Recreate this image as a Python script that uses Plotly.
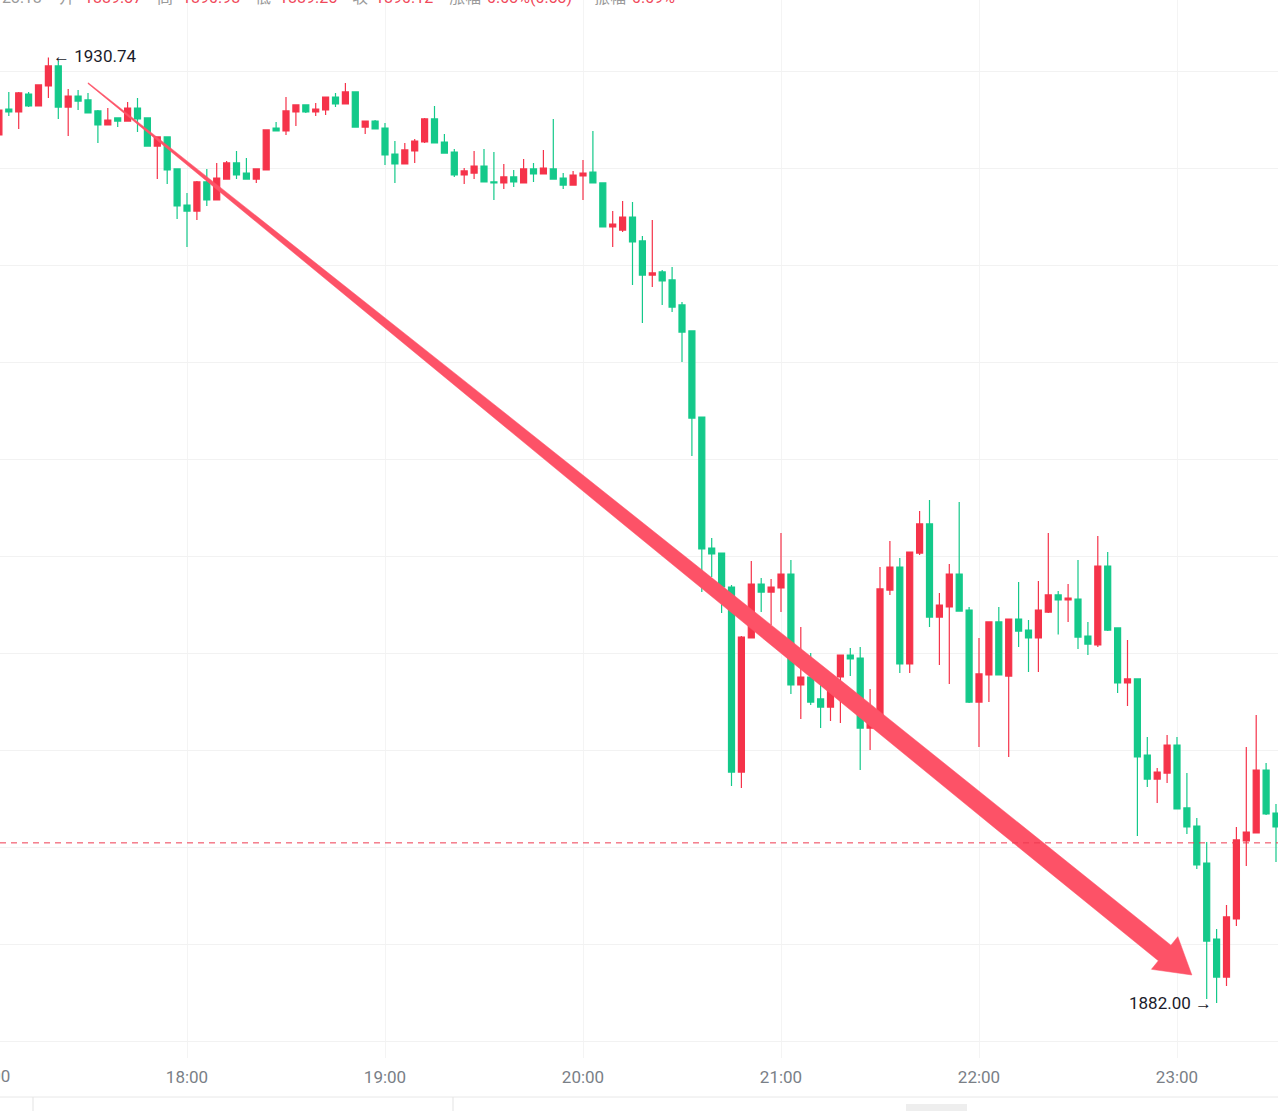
import math
import plotly.graph_objects as go

# ---------------- data (3-minute candles, minutes after 17:00) ----------------
minutes = list(range(3, 391, 3))  # 17:03 ... 23:30

open_ = [1926.75, 1928.09, 1927.94, 1928.86, 1928.25, 1929.28, 1930.31, 1928.19, 1928.76, 1928.56,
         1927.99, 1927.27, 1927.63, 1927.47, 1928.14, 1927.63, 1926.18, 1926.65, 1925.00, 1923.14,
         1922.83, 1924.33, 1923.40, 1924.48, 1925.31, 1924.79, 1924.48, 1924.95, 1927.11, 1926.96,
         1927.94, 1928.30, 1927.94, 1928.04, 1928.71, 1928.35, 1928.97, 1927.16, 1927.47, 1927.11,
         1925.77, 1925.26, 1925.93, 1926.39, 1927.58, 1926.39, 1925.87, 1924.69, 1924.79, 1925.15,
         1924.33, 1924.28, 1924.59, 1924.28, 1925.00, 1924.74, 1925.00, 1924.53, 1924.17, 1924.64,
         1924.84, 1924.28, 1922.01, 1921.85, 1922.52, 1921.29, 1919.53, 1919.69, 1919.28, 1917.99,
         1916.65, 1912.21, 1905.46, 1905.20, 1903.45, 1893.91, 1900.82, 1903.60, 1903.19, 1903.40,
         1904.12, 1898.40, 1898.81, 1897.68, 1897.26, 1898.81, 1899.94, 1899.79, 1896.18, 1896.85,
         1903.29, 1904.48, 1899.48, 1905.20, 1906.70, 1901.90, 1902.42, 1904.12, 1902.26, 1897.52,
         1898.92, 1901.65, 1898.86, 1901.80, 1901.23, 1900.82, 1902.16, 1903.04, 1902.78, 1902.83,
         1900.92, 1900.46, 1904.53, 1901.34, 1898.50, 1898.71, 1894.79, 1893.55, 1893.86, 1895.30,
         1892.06, 1891.13, 1889.22, 1885.30, 1883.34, 1886.34, 1890.36, 1890.77, 1894.01, 1891.80]

high = [1928.14, 1928.97, 1928.97, 1928.97, 1929.33, 1930.74, 1930.57, 1929.12, 1929.07, 1928.92,
        1928.04, 1928.14, 1927.63, 1928.45, 1928.66, 1927.63, 1926.65, 1926.65, 1925.00, 1923.76,
        1924.38, 1925.00, 1925.31, 1925.41, 1925.93, 1925.56, 1925.00, 1927.01, 1927.42, 1928.71,
        1928.30, 1928.30, 1928.40, 1928.71, 1928.92, 1929.43, 1928.97, 1927.47, 1927.52, 1927.37,
        1926.44, 1926.34, 1926.54, 1927.63, 1928.25, 1926.80, 1926.03, 1925.05, 1925.93, 1926.03,
        1925.87, 1925.26, 1924.95, 1925.51, 1925.31, 1925.98, 1927.58, 1924.79, 1924.90, 1925.46,
        1926.96, 1924.28, 1922.83, 1923.35, 1923.30, 1921.54, 1922.37, 1919.79, 1919.95, 1918.14,
        1916.65, 1912.21, 1905.97, 1905.20, 1903.55, 1900.92, 1904.79, 1903.91, 1903.86, 1906.23,
        1904.84, 1901.39, 1900.05, 1898.40, 1898.45, 1899.94, 1900.30, 1900.36, 1898.19, 1904.48,
        1905.82, 1904.95, 1905.25, 1907.37, 1907.93, 1903.14, 1904.64, 1907.83, 1902.42, 1900.82,
        1901.65, 1902.42, 1901.80, 1903.71, 1901.75, 1903.76, 1906.23, 1903.24, 1903.60, 1904.84,
        1901.65, 1906.08, 1905.25, 1901.34, 1900.72, 1898.71, 1895.72, 1894.12, 1895.82, 1895.72,
        1893.86, 1891.54, 1890.30, 1885.82, 1887.06, 1891.08, 1895.20, 1896.85, 1894.38, 1892.26]

low = [1926.70, 1927.73, 1927.06, 1928.19, 1928.25, 1928.66, 1927.58, 1926.70, 1928.04, 1927.89,
       1926.34, 1927.27, 1927.16, 1927.47, 1926.91, 1926.18, 1924.48, 1924.23, 1922.42, 1920.98,
       1922.37, 1923.09, 1923.40, 1924.48, 1924.48, 1924.48, 1924.28, 1924.95, 1926.96, 1926.75,
       1927.21, 1927.89, 1927.73, 1927.78, 1928.19, 1928.35, 1927.16, 1926.80, 1927.06, 1925.21,
       1924.28, 1925.26, 1925.31, 1926.34, 1926.34, 1925.82, 1924.59, 1924.23, 1924.48, 1924.33,
       1923.40, 1923.97, 1924.07, 1924.28, 1924.33, 1924.74, 1924.48, 1923.97, 1924.17, 1923.40,
       1924.28, 1922.01, 1920.98, 1921.75, 1919.02, 1917.06, 1918.92, 1917.99, 1917.63, 1915.05,
       1910.20, 1903.19, 1903.97, 1902.11, 1893.19, 1893.09, 1900.82, 1902.16, 1901.49, 1902.16,
       1897.93, 1896.65, 1897.37, 1896.18, 1896.54, 1896.44, 1898.86, 1894.01, 1895.05, 1896.85,
       1903.04, 1899.02, 1899.02, 1905.10, 1901.39, 1899.43, 1898.45, 1902.21, 1897.47, 1895.20,
       1897.52, 1898.92, 1894.69, 1900.36, 1899.07, 1899.07, 1902.11, 1901.00, 1901.65, 1900.25,
       1899.94, 1900.36, 1901.18, 1897.99, 1897.32, 1890.61, 1893.14, 1892.31, 1893.35, 1892.01,
       1890.72, 1888.91, 1882.21, 1882.00, 1882.88, 1885.97, 1889.07, 1890.77, 1891.70, 1889.27]

close = [1928.04, 1927.94, 1928.92, 1928.25, 1929.33, 1930.31, 1928.19, 1928.76, 1928.50, 1927.89,
         1927.27, 1927.52, 1927.47, 1928.14, 1927.58, 1926.18, 1926.65, 1924.95, 1923.09, 1922.83,
         1924.33, 1923.40, 1924.53, 1925.31, 1924.69, 1924.48, 1925.00, 1927.01, 1926.96, 1927.99,
         1928.30, 1927.94, 1928.09, 1928.71, 1928.35, 1928.97, 1927.16, 1927.47, 1927.06, 1925.72,
         1925.26, 1925.98, 1926.44, 1927.58, 1926.34, 1925.82, 1924.69, 1924.90, 1925.15, 1924.33,
         1924.28, 1924.59, 1924.33, 1925.00, 1924.74, 1925.05, 1924.48, 1924.17, 1924.69, 1924.79,
         1924.28, 1922.01, 1922.16, 1922.52, 1921.24, 1919.53, 1919.64, 1919.23, 1917.88, 1916.59,
         1912.16, 1905.41, 1905.15, 1903.45, 1893.91, 1900.87, 1903.60, 1903.19, 1903.45, 1904.12,
         1898.40, 1898.81, 1897.52, 1897.26, 1898.09, 1899.94, 1899.74, 1896.18, 1896.70, 1903.35,
         1904.48, 1899.48, 1905.25, 1906.70, 1901.90, 1902.52, 1904.12, 1902.21, 1897.52, 1898.97,
         1901.65, 1898.92, 1901.80, 1901.18, 1900.82, 1902.26, 1903.04, 1902.78, 1902.88, 1900.87,
         1900.51, 1904.53, 1901.23, 1898.50, 1898.71, 1894.69, 1893.55, 1893.91, 1895.30, 1892.01,
         1891.08, 1889.12, 1885.20, 1883.34, 1886.44, 1890.41, 1890.82, 1894.01, 1891.75, 1891.08]

tick_minutes = [60, 120, 180, 240, 300, 360]
tick_labels = ["18:00", "19:00", "20:00", "21:00", "22:00", "23:00"]

high_label = "← 1930.74"
low_label = "1882.00 →"
last_price_line = 1890.26

arrow_start = (30.0, 1929.43)   # (minute, price)
arrow_end = (364.5, 1883.45)

header_items = [("23:18", "gray"), ("开", "gray"), ("1889.37", "red"), ("高", "gray"),
                ("1890.98", "red"), ("低", "gray"), ("1889.25", "red"), ("收", "gray"),
                ("1890.12", "red"), ("涨幅", "gray"), ("0.03%(0.53)", "red"),
                ("振幅", "gray"), ("0.09%", "red")]
header_x = [0, 57, 82, 155, 180, 253, 277, 350, 373, 447, 485, 592, 630]

# ---------------- layout geometry ----------------
W, H = 1278, 1111
ML, MR, MT, MB = 0, 0, 0, 53
PW, PH = W - ML - MR, H - MT - MB
x_range = [3.333, 390.606]
y_range = [1879.17, 1933.71]

UP = "#F5334A"
DOWN = "#14C98A"
ARROW = "#FD5267"

kx = PW / (x_range[1] - x_range[0])
ky = PH / (y_range[1] - y_range[0])


def to_px(t, p):
    return ((t - x_range[0]) * kx, (y_range[1] - p) * ky)


def to_data(px, py):
    return (x_range[0] + px / kx, y_range[1] - py / ky)


def px_to_paper_x(px):
    return (px - ML) / PW


def px_to_paper_y(py):
    return 1 - (py - MT) / PH


fig = go.Figure()

fig.add_trace(go.Candlestick(
    x=minutes, open=open_, high=high, low=low, close=close,
    increasing=dict(line=dict(color=UP, width=1.2), fillcolor=UP),
    decreasing=dict(line=dict(color=DOWN, width=1.2), fillcolor=DOWN),
    whiskerwidth=0, showlegend=False, hoverinfo="skip",
))

# ---------------- tapered arrow (polygon in data space) ----------------
sx, sy = to_px(*arrow_start)
ex, ey = to_px(*arrow_end)
L = math.hypot(ex - sx, ey - sy)
ux, uy = (ex - sx) / L, (ey - sy) / L
nx, ny = -uy, ux
head_len, head_half, w_end = 35.0, 21.0, 20.0
bx, by = ex - ux * head_len, ey - uy * head_len
shaft_len = L - head_len
left, right = [], []
N = 40
for i in range(N + 1):
    f = i / N
    w = max(0.9, w_end * (1 - (1 - f) ** 1.6))
    cx, cy = sx + ux * shaft_len * f, sy + uy * shaft_len * f
    left.append((cx + nx * w / 2, cy + ny * w / 2))
    right.append((cx - nx * w / 2, cy - ny * w / 2))
poly = left + [(bx + nx * head_half, by + ny * head_half), (ex, ey),
               (bx - nx * head_half, by - ny * head_half)] + right[::-1]
poly_d = [to_data(px, py) for px, py in poly]
fig.add_trace(go.Scatter(
    x=[p[0] for p in poly_d], y=[p[1] for p in poly_d],
    mode="lines", fill="toself", fillcolor=ARROW,
    line=dict(color=ARROW, width=0.5), hoverinfo="skip", showlegend=False,
))

# ---------------- shapes ----------------
shapes = [
    dict(type="line", xref="paper", yref="y", x0=0, x1=1, y0=last_price_line, y1=last_price_line,
         line=dict(color="#EE3B50", width=1, dash="6px,5px"), layer="above"),
    dict(type="line", xref="paper", yref="paper", x0=0, x1=1,
         y0=px_to_paper_y(1097), y1=px_to_paper_y(1097), line=dict(color="#E8E8E8", width=1)),
    dict(type="line", xref="paper", yref="paper", x0=px_to_paper_x(33), x1=px_to_paper_x(33),
         y0=px_to_paper_y(1097), y1=px_to_paper_y(1112), line=dict(color="#E3E3E3", width=1)),
    dict(type="line", xref="paper", yref="paper", x0=px_to_paper_x(453), x1=px_to_paper_x(453),
         y0=px_to_paper_y(1097), y1=px_to_paper_y(1112), line=dict(color="#E3E3E3", width=1)),
    dict(type="rect", xref="paper", yref="paper", x0=px_to_paper_x(906), x1=px_to_paper_x(967),
         y0=px_to_paper_y(1104), y1=px_to_paper_y(1120), fillcolor="#EEEEEE", line=dict(width=0)),
]

# ---------------- annotations ----------------
annotations = [
    dict(x=minutes[high.index(max(high))], y=max(high), xref="x", yref="y", text=high_label,
         showarrow=False, xanchor="left", yanchor="middle", xshift=3, yshift=2,
         font=dict(family="Roboto", size=17, color="#1B1B2A")),
    dict(x=minutes[low.index(min(low))], y=min(low), xref="x", yref="y", text=low_label,
         showarrow=False, xanchor="right", yanchor="middle", xshift=-3, yshift=0,
         font=dict(family="Roboto", size=17, color="#1B1B2A")),
    dict(x=(0 - x_range[0]) / (x_range[1] - x_range[0]), y=px_to_paper_y(1076), xref="paper",
         yref="paper", text="17:00", showarrow=False, xanchor="center", yanchor="middle",
         font=dict(family="Roboto", size=17, color="#7A7F87")),
]
for (txt, kind), hx in zip(header_items, header_x):
    annotations.append(dict(
        x=px_to_paper_x(hx), y=1, xref="paper", yref="paper", text=txt, showarrow=False,
        xanchor="left", yanchor="bottom", yshift=-9,
        font=dict(family="Roboto, Noto Sans CJK SC", size=16,
                  color="#9A9A9A" if kind == "gray" else "#F0485A")))

fig.update_layout(
    width=W, height=H,
    margin=dict(l=ML, r=MR, t=MT, b=MB),
    paper_bgcolor="white", plot_bgcolor="white",
    showlegend=False, boxgap=0.24, boxgroupgap=0.2,
    shapes=shapes, annotations=annotations,
    xaxis=dict(range=x_range, tickvals=tick_minutes, ticktext=tick_labels,
               showgrid=True, gridcolor="#F4F4F4", zeroline=False, showline=False,
               ticks="", ticklabelstandoff=7,
               tickfont=dict(family="Roboto", size=17, color="#7A7F87"),
               rangeslider=dict(visible=False), fixedrange=True),
    yaxis=dict(range=y_range, dtick=5, tick0=1880, showgrid=True, gridcolor="#F2F2F2",
               zeroline=False, showline=False, showticklabels=False, ticks="", fixedrange=True),
)

fig.write_html("out.html")
